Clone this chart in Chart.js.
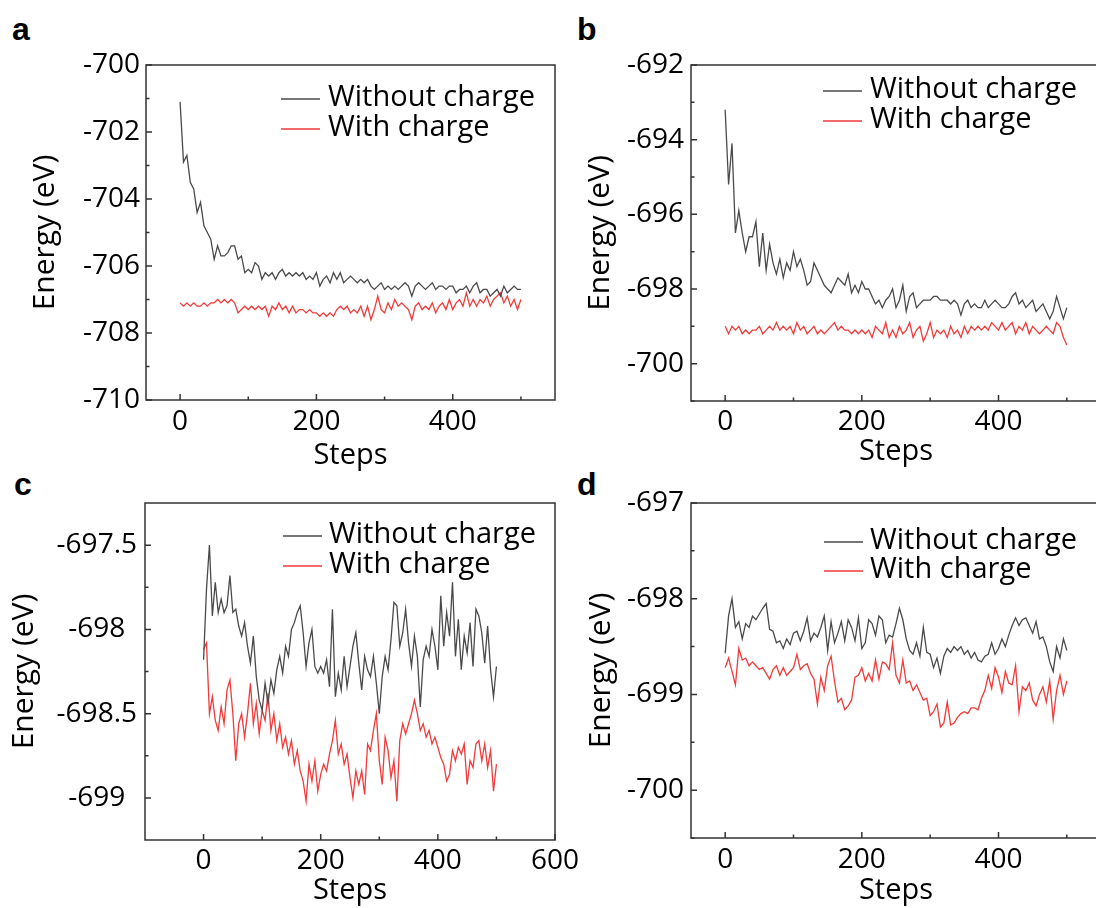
<!DOCTYPE html>
<html>
<head>
<meta charset="utf-8">
<title>Energy vs steps</title>
<script src="https://cdn.jsdelivr.net/npm/chart.js@4.4.1/dist/chart.umd.min.js"></script>
<style>
  body { margin: 0; width: 1096px; height: 908px; overflow: hidden; position: relative; background: #fff; }
  canvas { position: absolute; }
  .tag { position: absolute; font: bold 32px "Liberation Sans", Arial, sans-serif; line-height: 1; color: #000; }
</style>
</head>
<body>
<div class="tag" style="left:12px;top:13px">a</div>
<div class="tag" style="left:577px;top:13px">b</div>
<div class="tag" style="left:14px;top:468px">c</div>
<div class="tag" style="left:577px;top:468px">d</div>
<canvas id="chartA"></canvas>
<canvas id="chartB"></canvas>
<canvas id="chartC"></canvas>
<canvas id="chartD"></canvas>
<script>
// steps sampled every 5
const steps = [0,5,10,15,20,25,30,35,40,45,50,55,60,65,70,75,80,85,90,95,
  100,105,110,115,120,125,130,135,140,145,150,155,160,165,170,175,180,185,190,195,
  200,205,210,215,220,225,230,235,240,245,250,255,260,265,270,275,280,285,290,295,
  300,305,310,315,320,325,330,335,340,345,350,355,360,365,370,375,380,385,390,395,
  400,405,410,415,420,425,430,435,440,445,450,455,460,465,470,475,480,485,490,495,500];

// panel a
const aWithout = [-701.1,-702.9,-702.7,-703.5,-703.7,-704.4,-704.1,-704.8,-705.0,-705.2,
  -705.8,-705.4,-705.7,-705.7,-705.6,-705.4,-705.4,-705.8,-705.7,-706.2,
  -706.1,-706.2,-705.9,-706.0,-706.4,-706.2,-706.3,-706.2,-706.4,-706.2,
  -706.1,-706.3,-706.2,-706.3,-706.2,-706.3,-706.2,-706.4,-706.3,-706.4,
  -706.2,-706.6,-706.4,-706.3,-706.5,-706.2,-706.4,-706.2,-706.5,-706.4,
  -706.3,-706.4,-706.5,-706.4,-706.5,-706.4,-706.6,-706.7,-706.6,-706.5,
  -706.7,-706.6,-706.7,-706.6,-706.7,-706.6,-706.5,-706.6,-706.9,-706.6,
  -706.5,-706.6,-706.7,-706.6,-706.5,-706.7,-706.6,-706.6,-706.7,-706.6,
  -706.6,-706.8,-706.7,-706.7,-706.6,-706.8,-706.6,-706.5,-706.8,-706.7,
  -706.7,-706.9,-706.8,-706.7,-706.9,-706.6,-706.8,-706.7,-706.6,-706.7,-706.7];
const aWith = [-707.1,-707.2,-707.1,-707.2,-707.1,-707.2,-707.2,-707.1,-707.2,-707.1,
  -707.1,-707.0,-707.1,-707.0,-707.1,-707.0,-707.1,-707.4,-707.3,-707.2,
  -707.3,-707.2,-707.3,-707.2,-707.3,-707.2,-707.5,-707.2,-707.3,-707.1,
  -707.3,-707.2,-707.4,-707.2,-707.4,-707.3,-707.3,-707.4,-707.3,-707.4,
  -707.4,-707.5,-707.4,-707.5,-707.4,-707.5,-707.3,-707.2,-707.3,-707.2,
  -707.4,-707.3,-707.4,-707.2,-707.5,-707.2,-707.6,-707.3,-706.9,-707.3,
  -707.4,-707.1,-707.3,-707.0,-707.2,-707.1,-707.2,-707.3,-707.6,-707.2,
  -707.1,-707.3,-707.2,-707.3,-707.1,-707.4,-707.2,-707.1,-707.3,-707.0,
  -707.3,-707.1,-707.0,-707.2,-706.8,-707.2,-707.0,-707.2,-707.0,-707.1,
  -706.9,-707.2,-707.0,-706.9,-706.8,-707.1,-706.9,-707.2,-707.0,-707.3,-707.0];

// panel b
const bWithout = [-693.2,-695.2,-694.1,-696.5,-695.9,-696.5,-697.0,-696.6,-696.6,-696.2,
  -697.4,-696.5,-697.5,-696.8,-697.3,-697.6,-697.2,-697.7,-697.3,-697.5,
  -697.0,-697.4,-697.2,-697.5,-697.9,-697.8,-697.3,-697.5,-697.7,-697.9,
  -698.0,-698.1,-697.9,-697.7,-697.8,-697.9,-697.6,-698.1,-697.9,-698.1,
  -697.8,-698.0,-698.0,-698.2,-698.4,-698.3,-698.5,-698.3,-698.2,-698.0,
  -698.5,-698.3,-697.9,-698.6,-698.2,-698.1,-698.5,-698.4,-698.3,-698.3,
  -698.3,-698.2,-698.2,-698.3,-698.3,-698.3,-698.4,-698.3,-698.4,-698.7,
  -698.4,-698.3,-698.5,-698.4,-698.5,-698.5,-698.3,-698.5,-698.4,-698.3,
  -698.4,-698.5,-698.5,-698.4,-698.2,-698.1,-698.4,-698.3,-698.5,-698.4,
  -698.3,-698.6,-698.5,-698.4,-698.6,-698.8,-698.6,-698.2,-698.5,-698.8,-698.5];
const bWith = [-699.0,-699.2,-699.0,-699.1,-699.0,-699.2,-699.1,-699.2,-699.1,-699.1,
  -699.0,-699.2,-699.1,-699.0,-699.1,-698.9,-699.1,-699.0,-699.1,-699.0,
  -699.2,-698.9,-699.1,-699.0,-699.2,-699.1,-699.0,-699.2,-699.1,-699.2,
  -699.1,-699.0,-698.9,-699.1,-699.0,-699.1,-699.1,-699.2,-699.1,-699.2,
  -699.1,-699.2,-699.1,-699.3,-699.0,-699.1,-699.2,-698.9,-699.3,-699.1,
  -699.3,-699.0,-699.2,-699.1,-698.9,-699.3,-699.1,-699.0,-699.4,-699.2,
  -698.9,-699.3,-699.1,-699.2,-699.1,-699.3,-699.0,-699.2,-699.1,-699.3,
  -699.0,-699.2,-699.0,-699.1,-699.0,-699.1,-699.0,-699.1,-698.9,-699.0,
  -699.1,-698.9,-699.1,-699.0,-698.9,-699.2,-699.0,-699.1,-698.9,-699.2,
  -699.0,-699.1,-699.2,-699.1,-699.0,-699.1,-699.2,-698.9,-699.0,-699.3,-699.5];

// panel c
const cWithout = [-698.18,-697.76,-697.5,-697.92,-697.72,-697.9,-697.82,-697.9,-697.86,-697.68,
  -697.9,-697.88,-697.98,-698.04,-697.96,-698.1,-698.2,-698.04,-698.28,-698.42,
  -698.48,-698.32,-698.44,-698.3,-698.38,-698.24,-698.16,-698.26,-698.1,-698.16,
  -698.0,-697.96,-697.9,-697.86,-698.02,-698.22,-698.08,-698.0,-698.22,-698.26,
  -698.22,-698.26,-698.18,-698.34,-697.88,-698.4,-698.26,-698.36,-698.16,-698.34,
  -698.22,-698.1,-698.02,-698.2,-698.36,-698.16,-698.24,-698.28,-698.16,-698.32,
  -698.5,-698.28,-698.16,-698.24,-698.06,-697.84,-697.86,-698.1,-698.02,-697.88,
  -698.08,-698.22,-698.04,-698.16,-698.46,-698.18,-698.1,-698.16,-698.0,-698.1,
  -698.24,-697.8,-698.1,-697.9,-698.04,-697.72,-698.16,-697.94,-698.24,-698.04,
  -698.14,-697.96,-698.22,-697.88,-697.92,-698.02,-698.2,-697.98,-698.24,-698.4,-698.22];
const cWith = [-698.12,-698.08,-698.5,-698.4,-698.54,-698.6,-698.46,-698.56,-698.36,-698.3,
  -698.5,-698.78,-698.56,-698.5,-698.64,-698.5,-698.32,-698.56,-698.44,-698.62,
  -698.48,-698.54,-698.38,-698.6,-698.5,-698.66,-698.56,-698.7,-698.64,-698.74,
  -698.66,-698.8,-698.72,-698.84,-698.9,-699.02,-698.8,-698.9,-698.78,-698.96,
  -698.86,-698.8,-698.84,-698.74,-698.66,-698.54,-698.74,-698.68,-698.8,-698.74,
  -698.88,-699.0,-698.84,-698.92,-698.84,-698.98,-698.68,-698.72,-698.6,-698.5,
  -698.78,-698.92,-698.64,-698.72,-698.88,-698.78,-699.02,-698.66,-698.56,-698.62,
  -698.56,-698.5,-698.42,-698.5,-698.6,-698.56,-698.64,-698.6,-698.68,-698.64,
  -698.7,-698.76,-698.8,-698.9,-698.86,-698.72,-698.78,-698.7,-698.74,-698.68,
  -698.92,-698.78,-698.82,-698.68,-698.66,-698.78,-698.68,-698.82,-698.72,-698.96,-698.8];

// panel d
const dWithout = [-698.57,-698.18,-698.0,-698.3,-698.24,-698.42,-698.26,-698.3,-698.18,-698.22,
  -698.16,-698.1,-698.05,-698.32,-698.34,-698.46,-698.44,-698.52,-698.42,-698.48,
  -698.36,-698.34,-698.44,-698.34,-698.2,-698.44,-698.36,-698.4,-698.3,-698.18,
  -698.54,-698.24,-698.46,-698.36,-698.24,-698.44,-698.22,-698.3,-698.44,-698.2,
  -698.52,-698.46,-698.22,-698.26,-698.38,-698.18,-698.22,-698.46,-698.38,-698.4,
  -698.26,-698.1,-698.22,-698.42,-698.54,-698.58,-698.46,-698.6,-698.3,-698.56,
  -698.58,-698.72,-698.62,-698.78,-698.6,-698.52,-698.56,-698.5,-698.54,-698.5,
  -698.58,-698.54,-698.62,-698.56,-698.64,-698.66,-698.6,-698.58,-698.46,-698.58,
  -698.52,-698.42,-698.5,-698.38,-698.28,-698.2,-698.28,-698.22,-698.2,-698.28,
  -698.36,-698.24,-698.42,-698.4,-698.5,-698.66,-698.76,-698.5,-698.62,-698.42,-698.54];
const dWith = [-698.72,-698.62,-698.76,-698.9,-698.52,-698.64,-698.62,-698.7,-698.66,-698.7,
  -698.74,-698.72,-698.78,-698.84,-698.74,-698.7,-698.8,-698.72,-698.8,-698.76,
  -698.72,-698.58,-698.74,-698.7,-698.68,-698.78,-698.84,-699.1,-698.82,-698.96,
  -698.7,-698.6,-698.86,-699.08,-699.04,-699.16,-699.12,-699.06,-698.82,-698.8,
  -698.72,-698.86,-698.78,-698.86,-698.64,-698.84,-698.66,-698.68,-698.74,-698.46,
  -698.8,-698.88,-698.64,-698.88,-698.86,-698.96,-698.9,-698.98,-699.06,-699.04,
  -699.22,-699.18,-699.1,-699.34,-699.3,-699.08,-699.32,-699.3,-699.24,-699.2,
  -699.18,-699.2,-699.14,-699.14,-699.16,-699.04,-698.96,-698.8,-698.94,-698.72,
  -698.82,-698.98,-698.76,-698.88,-698.9,-698.7,-699.18,-698.92,-698.96,-698.88,
  -699.06,-699.12,-699.0,-698.92,-699.08,-698.86,-699.26,-698.96,-698.8,-699.0,-698.86];

// axis ticks
const xTicks = [0, 200, 400];
const xMinor = [100, 300, 500];
const cXTicks = [0, 200, 400, 600];
const aYTicks = [-710, -708, -706, -704, -702, -700];
const aYMinor = [-709, -707, -705, -703, -701];
const bYTicks = [-700, -698, -696, -694, -692];
const bYMinor = [-701, -699, -697, -695, -693];
const cYTicks = [-699, -698.5, -698, -697.5];
const cYMinor = [-698.75, -698.25, -697.75];
const dYTicks = [-700, -699, -698, -697];
const dYMinor = [-700.5, -699.5, -698.5, -697.5];

const seriesNames = ['Without charge', 'With charge'];
const lineColors = ['#4a4a4a', '#f23a3a'];
const FONT = '"Open Sans", "Noto Sans", sans-serif';
const TEXT = '#000';

// frame, inward ticks and legend
const framePlugin = {
  id: 'frame',
  afterDatasetsDraw(chart, args, o) {
    const ctx = chart.ctx, a = chart.chartArea, x = chart.scales.x, y = chart.scales.y;
    ctx.save();
    ctx.strokeStyle = '#333';
    ctx.lineWidth = 1.5;
    ctx.beginPath();
    o.xMajor.forEach(v => { const p = x.getPixelForValue(v); ctx.moveTo(p, a.bottom); ctx.lineTo(p, a.bottom - 6); });
    o.xMinor.forEach(v => { const p = x.getPixelForValue(v); ctx.moveTo(p, a.bottom); ctx.lineTo(p, a.bottom - 3.5); });
    o.yMajor.forEach(v => { const p = y.getPixelForValue(v); ctx.moveTo(a.left, p); ctx.lineTo(a.left + 6, p); });
    o.yMinor.forEach(v => { const p = y.getPixelForValue(v); ctx.moveTo(a.left, p); ctx.lineTo(a.left + 3.5, p); });
    ctx.stroke();
    ctx.strokeRect(a.left, a.top, a.right - a.left, a.bottom - a.top);

    ctx.font = '29px ' + FONT;
    ctx.fillStyle = TEXT;
    ctx.textBaseline = 'alphabetic';
    chart.data.datasets.forEach((ds, i) => {
      const ly = a.top + o.legY + i * o.legGap;
      ctx.strokeStyle = ds.borderColor;
      ctx.lineWidth = 1.4;
      ctx.beginPath();
      ctx.moveTo(a.right - o.legX0, ly);
      ctx.lineTo(a.right - o.legX0 + 39, ly);
      ctx.stroke();
      ctx.fillText(ds.label, a.right - o.legText, ly + 7);
    });
    ctx.restore();
  }
};

const panels = [
  { id: 'chartA', box: [0, 0, 600, 474], area: [146, 65, 555, 400],
    without: aWithout, withc: aWith, xMin: -50, xMax: 550, xTicks: xTicks, xMinor: xMinor,
    yMin: -710, yMax: -700, yTicks: aYTicks, yMinor: aYMinor,
    yPad: 6, yTitlePad: 27, xPad: 5, xTitlePad: 1, legX0: 274, legText: 227, legY: 34, legGap: 30 },
  { id: 'chartB', box: [548, 0, 600, 472], area: [691, 65, 1101, 401],
    without: bWithout, withc: bWith, xMin: -50, xMax: 550, xTicks: xTicks, xMinor: xMinor,
    yMin: -701, yMax: -692, yTicks: bYTicks, yMinor: bYMinor,
    yPad: 7, yTitlePad: 34, xPad: 4, xTitlePad: 3, legX0: 278, legText: 231, legY: 26, legGap: 30 },
  { id: 'chartC', box: [0, 440, 600, 473], area: [145, 503, 555, 840],
    without: cWithout, withc: cWith, xMin: -100, xMax: 600, xTicks: cXTicks, xMinor: xMinor,
    yMin: -699.25, yMax: -697.25, yTicks: cYTicks, yMinor: cYMinor,
    yPad: 8, yTitlePad: 6, xPad: 4, xTitlePad: 5, legX0: 272, legText: 226, legY: 33, legGap: 30 },
  { id: 'chartD', box: [548, 440, 600, 473], area: [691, 503, 1101, 838],
    without: dWithout, withc: dWith, xMin: -50, xMax: 550, xTicks: xTicks, xMinor: xMinor,
    yMin: -700.5, yMax: -697, yTicks: dYTicks, yMinor: dYMinor,
    yPad: 7, yTitlePad: 35, xPad: 5, xTitlePad: 5, legX0: 277, legText: 231, legY: 39, legGap: 29 }
];

function makeChart(p) {
  const [cx, cy, cw, ch] = p.box;
  const [l, t, r, b] = p.area;
  const cv = document.getElementById(p.id);
  cv.width = cw; cv.height = ch;
  cv.style.left = cx + 'px'; cv.style.top = cy + 'px';
  const series = [p.without, p.withc];
  return new Chart(cv, {
    type: 'line',
    data: {
      datasets: series.map((vals, i) => ({
        label: seriesNames[i],
        data: steps.map((s, j) => ({ x: s, y: vals[j] })),
        borderColor: lineColors[i],
        borderWidth: 1.3,
        pointRadius: 0,
        tension: 0
      }))
    },
    options: {
      responsive: false,
      animation: false,
      devicePixelRatio: 1,
      layout: { padding: { left: 0, top: t - cy, right: cx + cw - r, bottom: 0 } },
      plugins: {
        legend: { display: false },
        tooltip: { enabled: false },
        frame: { xMajor: p.xTicks, xMinor: p.xMinor, yMajor: p.yTicks, yMinor: p.yMinor,
                 legX0: p.legX0, legText: p.legText, legY: p.legY, legGap: p.legGap }
      },
      scales: {
        x: {
          type: 'linear', min: p.xMin, max: p.xMax,
          grid: { display: false, drawTicks: false },
          border: { display: false },
          afterBuildTicks: s => { s.ticks = p.xTicks.map(v => ({ value: v })); },
          afterFit: s => { s.height = cy + ch - b; },
          ticks: { autoSkip: false, maxRotation: 0, padding: p.xPad, color: TEXT,
                   font: { family: FONT, size: 28 }, callback: v => String(v) },
          title: { display: true, text: 'Steps', color: TEXT, font: { family: FONT, size: 29 },
                   padding: { top: 0, bottom: p.xTitlePad } }
        },
        y: {
          type: 'linear', min: p.yMin, max: p.yMax,
          grid: { display: false, drawTicks: false },
          border: { display: false },
          afterBuildTicks: s => { s.ticks = p.yTicks.map(v => ({ value: v })); },
          afterFit: s => { s.width = l - cx; },
          ticks: { autoSkip: false, crossAlign: 'center', padding: p.yPad, color: TEXT,
                   font: { family: FONT, size: 28 }, callback: v => String(v) },
          title: { display: true, text: 'Energy (eV)', color: TEXT, font: { family: FONT, size: 30 },
                   padding: { top: p.yTitlePad, bottom: 0 } }
        }
      }
    },
    plugins: [framePlugin]
  });
}

panels.forEach(makeChart);
</script>
</body>
</html>
